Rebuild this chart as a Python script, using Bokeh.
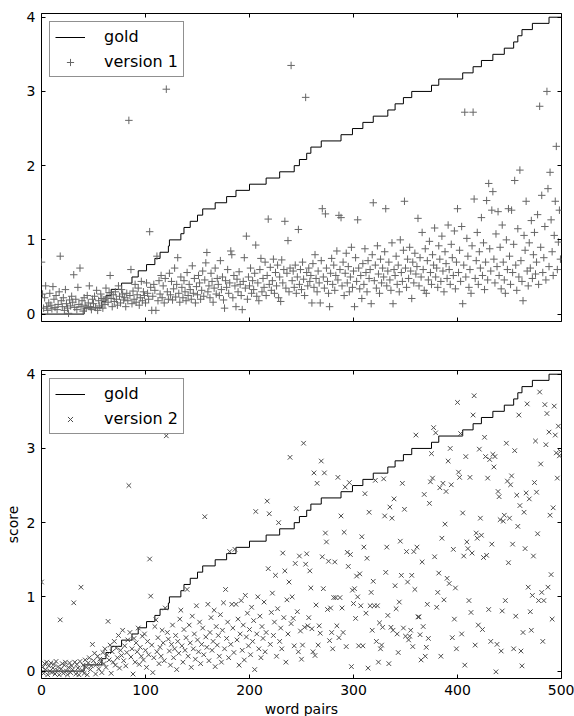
from bokeh.plotting import figure
from bokeh.layouts import column
from bokeh.models import (LinearAxis, Range1d, Legend, LegendItem, FixedTicker,
                          CustomJSTickFormatter)
from bokeh.embed import file_html
from bokeh.resources import INLINE

# ---------------- data ----------------
x_ticks = [0, 100, 200, 300, 400, 500]
y_ticks = [0, 1, 2, 3, 4]

# gold standard: step levels and the word-pair index where each level starts
gold_levels = [0.0, 0.083, 0.167, 0.25, 0.333, 0.417, 0.5, 0.583, 0.667, 0.75,
               0.833, 0.917, 1.0, 1.083, 1.167, 1.25, 1.333, 1.417, 1.5, 1.583,
               1.667, 1.75, 1.833, 1.917, 2.0, 2.083, 2.167, 2.25, 2.333, 2.417,
               2.5, 2.583, 2.667, 2.75, 2.833, 2.917, 3.0, 3.083, 3.167, 3.25,
               3.333, 3.417, 3.5, 3.583, 3.667, 3.75, 3.833, 3.917, 4.0, 4.0]
gold_start = [0, 41, 58, 62, 67, 77, 87, 93, 101, 109,
              114, 122, 123, 134, 137, 143, 150, 155, 167, 178,
              187, 200, 216, 229, 243, 248, 255, 259, 269, 288,
              299, 309, 319, 333, 340, 348, 356, 375, 382, 405,
              415, 423, 434, 445, 454, 458, 462, 472, 488, 500]

version1 = [
    0.70, 0.27, 0.08, 0.22, 0.38, 0.10, 0.05, 0.15, 0.28, 0.12,
    0.07, 0.37, 0.20, 0.09, 0.25, 0.06, 0.13, 0.30, 0.78, 0.18,
    0.10, 0.22, 0.05, 0.33, 0.14, 0.08, 0.01, 0.19, 0.11, 0.24,
    0.16, 0.53, 0.09, 0.20, 0.06, 0.36, 0.13, 0.62, 0.10, 0.18,
    0.04, 0.22, 0.12, 0.08, 0.25, 0.15, 0.38, 0.10, 0.06, 0.20,
    0.14, 0.24, 0.09, 0.32, 0.05, 0.18, 0.11, 0.27, 0.21, 0.08,
    0.19, 0.13, 0.35, 0.23, 0.16, 0.29, 0.52, 0.21, 0.10, 0.26,
    0.17, 0.30, 0.20, 0.12, 0.38, 0.24, 0.15, 0.33, 0.27, 0.19,
    0.22, 0.10, 0.28, 0.18, 2.61, 0.25, 0.60, 0.14, 0.31, 0.20,
    0.40, 0.16, 0.26, 0.35, 0.12, 0.22, 0.44, 0.18, 0.30, 0.25,
    0.15, 0.42, 0.28, 0.20, 1.11, 0.36, 0.05, 0.24, 0.40, 0.32,
    0.05, 0.78, 0.18, 0.45, 0.27, 0.52, 0.22, 0.38, 0.15, 0.48,
    3.03, 0.30, 0.20, 0.55, 0.26, 0.44, 0.19, 0.34, 0.62, 0.23,
    0.40, 0.76, 0.28, 0.16, 0.50, 0.36, 0.22, 0.45, 0.30, 0.18,
    0.56, 0.25, 0.40, 0.33, 0.20, 0.65, 0.28, 0.48, 0.15, 0.37,
    0.26, 0.52, 0.42, 0.20, 0.32, 0.58, 0.24, 0.46, 0.69, 0.83,
    0.30, 0.38, 0.22, 0.55, 0.44, 0.16, 0.35, 0.62, 0.27, 0.48,
    0.40, 0.25, 0.72, 0.33, 0.50, 0.19, 0.08, 0.45, 0.36, 0.60,
    0.28, 0.42, 0.85, 0.80, 0.22, 0.52, 0.38, 0.10, 0.47, 0.30,
    0.57, 0.40, 0.25, 0.06, 0.44, 0.76, 0.35, 1.05, 0.20, 0.50,
    0.38, 0.62, 0.28, 0.45, 0.33, 0.55, 0.93, 0.24, 0.42, 0.18,
    0.60, 0.75, 0.30, 0.48, 0.36, 0.70, 0.25, 0.52, 1.28, 0.40,
    0.63, 0.32, 0.45, 0.74, 0.28, 0.56, 0.38, 0.66, 0.22, 0.50,
    0.17, 0.73, 0.42, 0.60, 1.25, 0.35, 0.55, 0.99, 0.30, 0.62,
    3.35, 0.45, 0.58, 0.36, 0.66, 0.28, 0.50, 1.14, 0.40, 0.60,
    0.33, 0.70, 0.47, 0.25, 2.92, 0.56, 0.38, 0.62, 0.44, 0.52,
    0.15, 0.68, 0.36, 0.80, 0.48, 0.30, 0.58, 0.42, 0.15, 0.72,
    1.42, 0.50, 0.35, 1.35, 0.62, 0.44, 0.28, 0.10, 0.55, 0.75,
    0.40, 0.66, 0.32, 0.52, 0.85, 0.46, 1.33, 0.60, 1.30, 0.38,
    0.70, 0.25, 0.55, 0.82, 0.42, 0.64, 0.30, 0.50, 0.90, 0.36,
    0.58, 0.10, 0.76, 0.44, 1.27, 0.62, 0.34, 0.52, 0.21, 0.68,
    0.40, 0.88, 0.56, 0.30, 0.72, 0.48, 0.60, 0.14, 0.80, 1.50,
    0.45, 0.66, 0.35, 0.92, 0.54, 0.28, 0.74, 0.42, 0.62, 0.50,
    0.84, 1.42, 0.38, 0.58, 0.70, 0.46, 0.32, 0.96, 0.14, 0.60,
    0.52, 0.78, 0.40, 0.66, 0.30, 1.00, 0.56, 0.44, 0.86, 1.52,
    0.62, 0.36, 0.74, 0.48, 0.90, 0.58, 0.21, 0.70, 0.42, 0.82,
    0.54, 0.64, 1.29, 0.38, 0.76, 0.50, 1.10, 0.60, 0.32, 0.88,
    0.28, 0.72, 0.46, 0.98, 0.56, 0.40, 0.80, 0.66, 1.16, 0.50,
    0.62, 0.36, 0.92, 0.74, 0.44, 1.05, 0.58, 0.30, 0.84, 0.68,
    0.48, 1.20, 0.60, 0.40, 0.94, 0.76, 0.52, 1.12, 0.34, 0.70,
    1.42, 0.56, 0.86, 0.44, 1.18, 0.14, 0.66, 2.72, 0.50, 1.02,
    0.78, 0.36, 0.60, 0.28, 0.92, 2.72, 1.55, 0.48, 0.72, 1.10,
    0.40, 0.84, 0.62, 1.30, 0.52, 0.96, 0.33, 0.70, 1.53, 0.46,
    1.76, 0.88, 0.58, 1.40, 1.65, 0.74, 0.42, 1.08, 0.64, 1.38,
    0.52, 0.90, 0.34, 1.20, 0.70, 0.46, 0.28, 1.00, 0.60, 1.42,
    0.78, 0.40, 1.40, 0.56, 0.94, 1.80, 0.66, 0.32, 1.15, 0.50,
    1.94, 0.72, 0.44, 0.18, 1.06, 0.86, 1.52, 0.58, 0.38, 0.96,
    0.62, 1.26, 0.48, 0.80, 1.10, 0.54, 0.70, 1.34, 0.40, 2.80,
    0.90, 1.60, 0.56, 0.76, 1.18, 0.46, 3.00, 1.69, 0.64, 1.91,
    1.27, 0.84, 0.52, 1.06, 1.52, 2.26, 0.60, 0.97, 1.40, 0.74,
]

version2 = [
    1.20, 0.05, -0.03, 0.10, 0.02, 0.12, -0.05, 0.07, 0.00, 0.11,
    -0.02, 0.04, 0.09, -0.04, 0.13, 0.01, 0.06, -0.05, 0.69, 0.03,
    0.10, -0.03, 0.08, 0.12, 0.00, -0.05, 0.05, 0.11, -0.02, 0.07,
    0.02, 0.92, 0.12, -0.04, 0.09, 0.04, -0.05, 0.13, 1.13, 0.01,
    0.08, -0.03, 0.15, 0.05, -0.05, 0.11, 0.18, 0.02, 0.07, 0.36,
    0.14, 0.24, -0.04, 0.09, 0.20, 0.03, 0.16, 0.12, -0.02, 0.25,
    0.10, 0.30, 0.05, 0.22, 0.67, 0.15, 0.35, -0.03, 0.26, 0.12,
    0.40, 0.08, 0.31, 0.18, 0.48, 0.04, 0.28, 0.21, 0.55, 0.14,
    0.34, 0.07, 0.25, 0.42, 2.50, 0.52, 0.19, 0.30, -0.04, 0.44,
    0.12, 0.38, 0.26, 0.58, 0.09, 0.32, 0.20, 0.47, 0.15, 0.50,
    0.28, 0.05, 0.40, 0.22, 1.51, 1.01, 0.35, -0.02, 0.18, 0.60,
    0.69, 0.26, 0.45, 0.10, 0.32, 0.20, 0.55, 0.38, 0.14, 0.85,
    3.17, 0.52, 0.43, 0.27, 0.08, 0.36, 0.62, 0.18, 0.30, 0.48,
    0.02, 0.40, 0.24, 0.70, 0.82, 0.34, 0.12, 0.56, 0.28, 0.45,
    1.10, 0.20, 0.62, 0.38, 0.05, 0.74, 0.30, 0.50, 0.16, 0.88,
    0.42, 0.26, 0.66, 0.10, 0.36, 0.58, 0.22, 2.08, 0.46, 0.32,
    0.90, 0.14, 0.52, 0.72, 0.28, 0.40, 0.82, 0.06, 0.60, 0.35,
    0.48, 0.20, 0.76, 0.12, 0.55, 0.92, 0.30, 1.10, 0.44, 0.66,
    0.18, 1.61, 0.36, 0.90, 0.58, 0.25, 1.64, 0.90, 0.42, 0.70,
    0.08, 0.50, 0.95, 0.28, 0.62, 0.15, 1.02, 0.46, 0.78, 0.34,
    0.56, 0.22, 0.86, 0.40, 0.68, 0.02, 2.15, 0.50, 1.00, 0.30,
    0.74, 0.18, 0.60, 0.44, 0.93, 0.26, 0.52, 2.29, 1.38, 2.12,
    0.36, 0.79, 1.05, 0.48, 0.66, 1.29, 0.20, 0.84, 2.00, 0.40,
    0.58, 0.30, 1.59, 0.72, 1.35, 0.12, 0.96, 0.50, 1.20, 2.88,
    0.64, 1.00, 0.71, 0.34, 1.45, 2.19, 0.80, 0.26, 1.55, 0.54,
    0.16, 0.35, 3.07, 0.59, 1.44, 1.58, 0.61, 0.72, 1.35, 1.12,
    0.57, 0.26, 2.67, 0.21, 0.89, 2.53, 0.35, 0.61, 0.51, 2.83,
    1.54, 1.11, 2.67, 1.86, 1.74, 0.83, 1.48, 0.41, 0.85, 0.52,
    0.30, 0.99, 1.47, 0.99, 0.61, 2.61, 0.45, 0.99, 2.09, 0.85,
    0.52, 1.87, 2.48, 0.33, 1.60, 1.41, 2.54, 1.57, 0.06, 1.09,
    0.91, 1.11, 0.71, 1.28, 1.00, 0.34, 1.31, 0.88, 1.81, 0.34,
    1.67, 2.39, 0.78, 1.52, 0.04, 2.14, 0.88, 1.06, 0.55, 1.21,
    0.88, 2.57, 0.40, 0.88, 0.12, 0.65, 0.30, 0.35, 0.59, 2.59,
    2.09, 1.33, 1.67, 0.75, 0.10, 2.21, 0.59, 2.06, 0.55, 2.32,
    1.15, 0.84, 0.50, 0.25, 0.93, 1.75, 1.29, 2.53, 0.58, 2.18,
    0.47, 1.61, 1.20, 0.42, 0.47, 0.55, 1.29, 0.33, 1.61, 1.10,
    3.18, 1.67, 0.73, 0.73, 0.49, 0.15, 1.47, 0.60, 2.38, 0.20,
    0.32, 0.90, 0.44, 2.26, 2.55, 2.93, 2.60, 3.28, 1.54, 3.21,
    0.86, 1.06, 1.32, 2.47, 0.20, 1.79, 2.53, 0.96, 1.98, 2.42,
    1.25, 2.83, 1.18, 3.00, 2.51, 0.45, 1.64, 0.70, 1.12, 0.30,
    3.62, 2.68, 2.61, 3.20, 0.50, 2.13, 1.55, 0.08, 2.89, 1.74,
    1.65, 0.95, 2.61, 0.79, 1.59, 3.45, 3.71, 0.35, 1.86, 1.79,
    0.62, 2.99, 2.06, 1.83, 0.56, 1.53, 3.15, 2.89, 1.56, 2.60,
    0.83, 2.85, 0.40, 1.71, 2.92, 2.75, 2.89, -0.01, 0.36, 2.42,
    2.35, 2.04, 0.27, 0.81, 2.02, 2.10, 0.95, 3.07, 2.56, 1.46,
    2.06, 2.51, 2.63, 1.71, 0.30, 2.97, 0.74, 2.37, 1.95, 3.45,
    2.23, 0.27, 0.07, 0.52, 2.14, 1.65, 2.40, 3.60, 1.13, 2.32,
    0.80, 0.55, 1.02, 1.55, 2.54, 3.10, 2.41, 1.85, 0.95, 3.76,
    2.79, 1.06, 0.40, 0.95, 3.59, 3.05, 3.47, 1.13, 3.22, 2.10,
    1.30, 0.70, 2.20, 3.57, 3.18, 2.94, 2.60, 3.30, 2.90, 2.96,
]

FONT = "DejaVu Sans"
MARK_PLUS = "#666666"
MARK_X = "#4d4d4d"


def style_axis(ax, ticks, show_labels, standoff=6):
    ax.ticker = FixedTicker(ticks=ticks)
    ax.major_tick_in = 4
    ax.major_tick_out = 0
    ax.major_tick_line_color = "black"
    ax.minor_tick_line_color = None
    ax.axis_line_color = None
    if show_labels:
        ax.major_label_text_font = FONT
        ax.major_label_text_font_size = "14px"
        ax.major_label_text_color = "black"
        ax.major_label_standoff = standoff
    else:
        ax.formatter = CustomJSTickFormatter(code="return ''")
        ax.major_label_text_font_size = "1px"
        ax.major_label_standoff = 0


def make_panel(values, marker, marker_size, mark_color, label, bottom_labels,
               top_border, bottom_border):
    p = figure(frame_width=520, frame_height=308,
               x_range=Range1d(0, 500), y_range=Range1d(-0.1, 4.05),
               output_backend="svg", toolbar_location=None,
               min_border_left=41, min_border_right=13,
               min_border_top=top_border, min_border_bottom=bottom_border)
    p.grid.visible = False
    p.outline_line_color = "black"
    p.outline_line_width = 1
    p.background_fill_color = "white"
    p.border_fill_color = "white"

    style_axis(p.below[0], x_ticks, bottom_labels, standoff=6)
    style_axis(p.left[0], y_ticks, True, standoff=6)
    top_ax = LinearAxis()
    style_axis(top_ax, x_ticks, False)
    p.add_layout(top_ax, "above")
    right_ax = LinearAxis()
    style_axis(right_ax, y_ticks, False)
    p.add_layout(right_ax, "right")

    line = p.step(x=gold_start, y=gold_levels, mode="after",
                  line_color="black", line_width=1)
    idx = list(range(len(values)))
    sc = p.scatter(x=idx, y=values, marker=marker, size=marker_size,
                   line_color=mark_color, fill_color=None, line_width=1)

    legend = Legend(items=[LegendItem(label="gold", renderers=[line]),
                           LegendItem(label=label, renderers=[sc])],
                    location="top_left")
    legend.margin = 8
    legend.padding = 5
    legend.spacing = 6
    legend.glyph_width = 30
    legend.glyph_height = 18
    legend.label_standoff = 19
    legend.label_height = 18
    legend.label_text_font = FONT
    legend.label_text_font_size = "16px"
    legend.label_text_color = "black"
    legend.border_line_color = "#222222"
    legend.border_line_width = 1
    legend.background_fill_color = "white"
    legend.background_fill_alpha = 1.0
    p.add_layout(legend)
    return p, p.below[0], p.left[0]


p1, _, _ = make_panel(version1, "cross", 7.5, MARK_PLUS, "version 1", False, 13, 20)
p2, p2_x, p2_y = make_panel(version2, "x", 6.5, MARK_X, "version 2", True, 29, 38)
p2_x.axis_label = "word pairs"
p2_y.axis_label = "score"
for ax in (p2_x, p2_y):
    ax.axis_label_text_font = FONT
    ax.axis_label_text_font_size = "14px"
    ax.axis_label_text_font_style = "normal"
    ax.axis_label_text_color = "black"
    ax.axis_label_standoff = 3

layout = column(p1, p2, spacing=0)
open("out.html", "w").write(file_html(layout, INLINE))
